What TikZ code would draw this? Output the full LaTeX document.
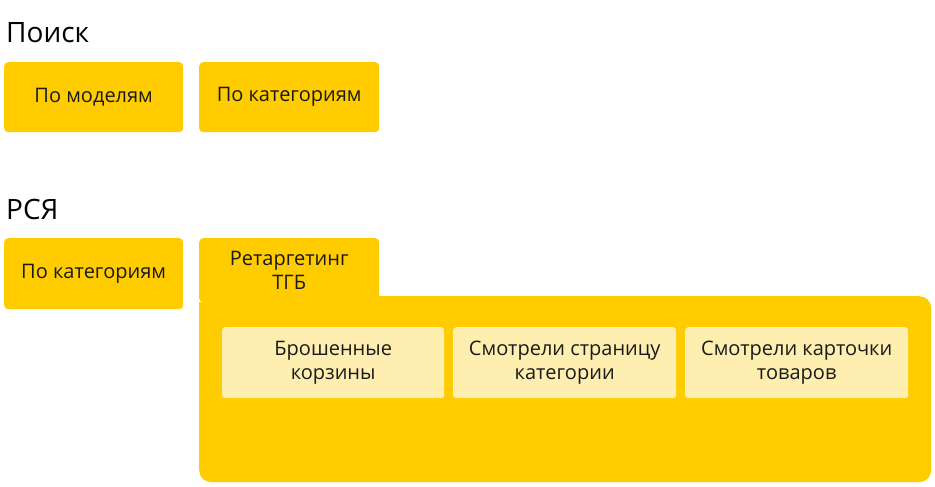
\documentclass[tikz,border=0pt]{standalone}
\usepackage{fontspec}
\setmainfont{Open Sans}
\usetikzlibrary{positioning}

\definecolor{yaYellow}{HTML}{FFCC00}
\definecolor{yaPale}{HTML}{FEEEB0}
\definecolor{yaText}{HTML}{1A1A1A}

\newcommand*{\boxw}{179pt}
\newcommand*{\boxh}{70pt}

\begin{document}
\begin{tikzpicture}
[
	x=1pt,
	y=-1pt,
	catbox/.style={rectangle,fill=yaYellow,rounded corners=4pt,anchor=north west,
		minimum width=\boxw,minimum height=\boxh,inner sep=0pt,text=yaText,
		font=\fontsize{20}{24.5}\selectfont,align=center},
	subbox/.style={rectangle,fill=yaPale,rounded corners=3pt,anchor=north west,
		minimum width=222pt,minimum height=71pt,inner sep=0pt,text=yaText,
		font=\fontsize{20}{24.5}\selectfont,align=center},
	heading/.style={anchor=base west,inner sep=0pt,text=black,
		font=\fontsize{28}{32}\selectfont}
]

	\useasboundingbox (0,0) rectangle (935,487);

	% search
	\node[heading] (search) at (6,43) {Поиск};
	\node[catbox] (searchModels) at (4,62) {По моделям};
	\node[catbox,minimum width=180pt] (searchCats) at (199,62) {По категориям};

	% rsya
	\node[heading] (rsya) at (6,219) {РСЯ};
	\node[catbox,minimum height=71pt] (rsyaCats) at (4,238) {По категориям};

	% retargeting folder
	\node[catbox,rounded corners=12pt,minimum width=732pt,minimum height=186pt] (retBody) at (199,296) {};
	\node[catbox,minimum width=180pt,minimum height=64pt] (retTab) at (199,238) {Ретаргетинг\\ТГБ};
	\fill[yaYellow] (retTab.south west) rectangle ([yshift=-12pt]retTab.south east);

	\node[subbox] (carts) at (222,327) {Брошенные\\корзины};
	\node[subbox,minimum width=223pt] (catPage) at (453,327) {Смотрели страницу\\категории};
	\node[subbox,minimum width=223pt] (goods) at (685,327) {Смотрели карточки\\товаров};

\end{tikzpicture}
\end{document}
